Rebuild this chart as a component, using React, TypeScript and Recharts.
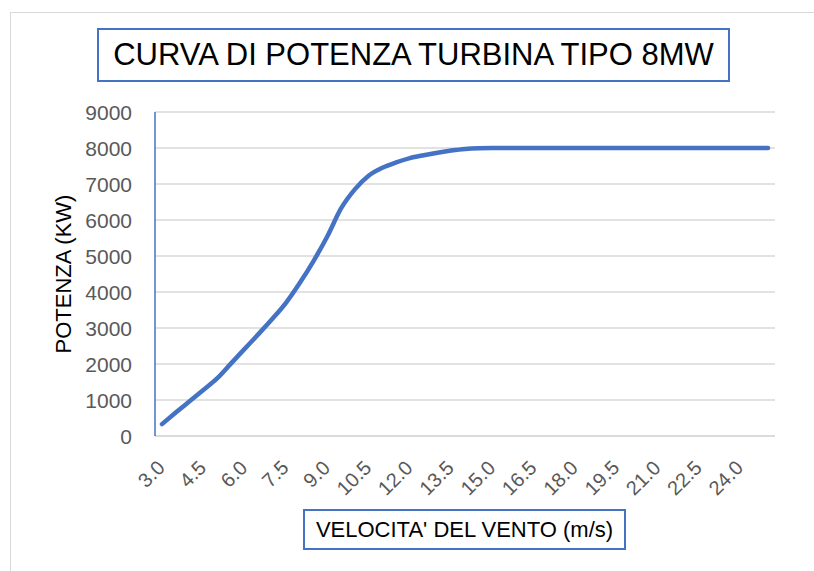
import React from 'react'
import { LineChart, Line, XAxis, YAxis, CartesianGrid } from 'recharts'

// velocità del vento (m/s), passo 0.5
const windSpeed = [
  '3.0', '3.5', '4.0', '4.5', '5.0', '5.5', '6.0', '6.5', '7.0', '7.5',
  '8.0', '8.5', '9.0', '9.5', '10.0', '10.5', '11.0', '11.5', '12.0', '12.5',
  '13.0', '13.5', '14.0', '14.5', '15.0', '15.5', '16.0', '16.5', '17.0', '17.5',
  '18.0', '18.5', '19.0', '19.5', '20.0', '20.5', '21.0', '21.5', '22.0', '22.5',
  '23.0', '23.5', '24.0', '24.5', '25.0',
]

// potenza (kW)
const power = [
  330, 650, 965, 1280, 1600, 2010, 2420, 2830, 3250, 3700,
  4250, 4860, 5540, 6320, 6850, 7230, 7450, 7600, 7720, 7800,
  7870, 7930, 7975, 7995, 8000, 8000, 8000, 8000, 8000, 8000,
  8000, 8000, 8000, 8000, 8000, 8000, 8000, 8000, 8000, 8000,
  8000, 8000, 8000, 8000, 8000,
]

const yTicks = [0, 1000, 2000, 3000, 4000, 5000, 6000, 7000, 8000, 9000]

const data = windSpeed.map((v, i) => ({ v, p: power[i] }))

const FONT = '"Liberation Sans", Arial, sans-serif'
const BLUE = '#4472c4'
const GRID = '#d9d9d9'

const XTick = ({ x, y, payload }: any) => (
  <text
    x={x + 4}
    y={y + 25}
    transform={`rotate(-45, ${x + 4}, ${y + 25})`}
    textAnchor="end"
    fontSize={20}
    fontFamily={FONT}
    fill="#595959"
  >
    {payload.value}
  </text>
)

const YTick = ({ y, payload }: any) => (
  <text
    x={132}
    y={y}
    textAnchor="end"
    dominantBaseline="central"
    fontSize={21}
    fontFamily={FONT}
    fill="#595959"
  >
    {payload.value}
  </text>
)

const YTitle = () => (
  <text
    x={71}
    y={274}
    transform="rotate(-90, 71, 274)"
    textAnchor="middle"
    fontSize={22}
    fontFamily={FONT}
    fill="#000"
  >
    POTENZA (KW)
  </text>
)

export default function App() {
  return (
    <div
      style={{
        position: 'absolute',
        left: 0,
        top: 0,
        width: 814,
        height: 571,
        overflow: 'hidden',
        background: '#fff',
        fontFamily: FONT,
      }}
    >
      <div
        style={{
          position: 'absolute',
          left: 10,
          top: 12,
          width: 830,
          height: 600,
          border: `1.5px solid ${GRID}`,
        }}
      />
      <LineChart
        width={814}
        height={571}
        data={data}
        margin={{ top: 112, right: 39, left: 0, bottom: 0 }}
        style={{ position: 'absolute', left: 0, top: 0 }}
      >
        <CartesianGrid vertical={false} stroke={GRID} strokeWidth={1.5} />
        <XAxis
          dataKey="v"
          height={135}
          padding={{ left: 7, right: 7 }}
          interval={2}
          tickLine={false}
          axisLine={{ stroke: GRID, strokeWidth: 1.5 }}
          tick={<XTick />}
        />
        <YAxis
          width={155}
          domain={[0, 9000]}
          ticks={yTicks}
          tickLine={false}
          axisLine={{ stroke: BLUE, strokeWidth: 1.5 }}
          tick={<YTick />}
          label={<YTitle />}
        />
        <Line
          type="monotone"
          dataKey="p"
          stroke={BLUE}
          strokeWidth={4.5}
          strokeLinecap="round"
          dot={false}
          isAnimationActive={false}
        />
      </LineChart>
      <div
        style={{
          position: 'absolute',
          left: 97,
          top: 28,
          width: 629,
          height: 50,
          border: `2px solid ${BLUE}`,
          fontSize: 31,
          lineHeight: '50px',
          textAlign: 'center',
          color: '#000',
          whiteSpace: 'nowrap',
        }}
      >
        CURVA DI POTENZA TURBINA TIPO 8MW
      </div>
      <div
        style={{
          position: 'absolute',
          left: 303,
          top: 509,
          width: 319,
          height: 37,
          border: `2px solid ${BLUE}`,
          fontSize: 22,
          lineHeight: '37px',
          textAlign: 'center',
          color: '#000',
          whiteSpace: 'nowrap',
        }}
      >
        VELOCITA' DEL VENTO (m/s)
      </div>
    </div>
  )
}
